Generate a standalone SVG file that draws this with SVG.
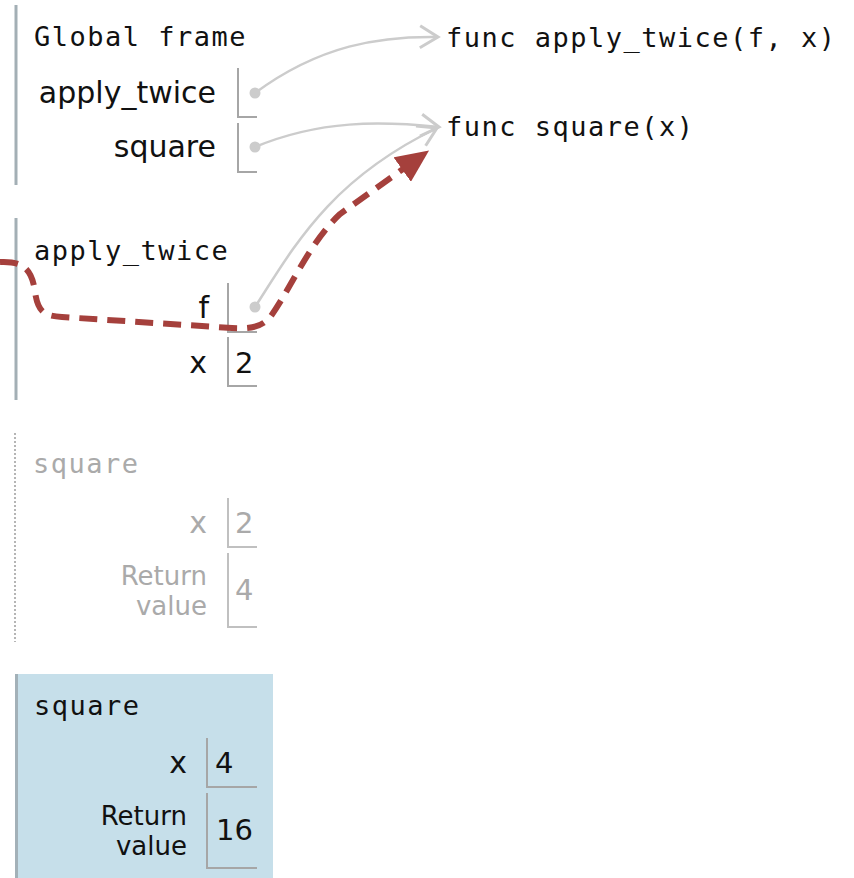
<svg xmlns="http://www.w3.org/2000/svg" width="854" height="878" viewBox="0 0 854 878">
<defs>
<style>
.title{font-family:"DejaVu Sans Mono","Liberation Mono",monospace;font-size:27px;letter-spacing:1.5px;fill:#111111}
.lbl{font-family:"DejaVu Sans","Liberation Sans",sans-serif;font-size:30px;fill:#111111;text-anchor:end}
.ret{font-family:"DejaVu Sans","Liberation Sans",sans-serif;font-size:26px;fill:#111111;text-anchor:end}
.val{font-family:"DejaVu Sans","Liberation Sans",sans-serif;font-size:29px;fill:#111111}
.faded .title,.faded .lbl,.faded .ret,.faded .val{fill:#aaaaaa}
.box{fill:none;stroke:#a6a6a6;stroke-width:2}
.faded .box{stroke:#c0c0c0}
.bar{stroke:#a3afb5;stroke-width:3}
.dot{fill:#cccccc}
.ptr{fill:none;stroke:#cccccc;stroke-width:2.5}
.red{fill:none;stroke:#a5403c;stroke-width:6;stroke-dasharray:18 10}
</style>
<marker id="chev" markerUnits="userSpaceOnUse" markerWidth="24" markerHeight="26" viewBox="0 0 24 26" refX="20" refY="13" orient="auto">
<path d="M2,2 L20,13 L2,24" fill="none" stroke="#cccccc" stroke-width="3"/>
</marker>
<marker id="redhead" markerUnits="userSpaceOnUse" markerWidth="33" markerHeight="30" viewBox="0 0 33 30" refX="1" refY="15" orient="auto">
<path d="M0,0 L33,15 L0,30 z" fill="#a5403c"/>
</marker>
</defs>

<g id="global-frame">
<line class="bar" x1="16" y1="5" x2="16" y2="185"/>
<text class="title" x="34" y="46">Global frame</text>
<text class="lbl" x="216" y="103">apply_twice</text>
<path class="box" d="M238,68 V117 H257"/>
<circle class="dot" cx="255" cy="93" r="5.5"/>
<text class="lbl" x="216" y="157">square</text>
<path class="box" d="M238,123 V172 H257"/>
<circle class="dot" cx="255" cy="147" r="5.5"/>
</g>

<g id="func-apply-twice">
<text class="title" x="446" y="47">func apply_twice(f, x)</text>
</g>
<g id="func-square">
<text class="title" x="446" y="136">func square(x)</text>
</g>

<g id="apply-twice-frame">
<line class="bar" x1="16" y1="218" x2="16" y2="400"/>
<text class="title" x="34" y="260">apply_twice</text>
<text class="lbl" x="209" y="318">f</text>
<path class="box" d="M228,283 V332 H257"/>
<circle class="dot" cx="255" cy="307" r="5.5"/>
<text class="lbl" x="207" y="373">x</text>
<path class="box" d="M228,337 V386 H257"/>
<text class="val" x="235" y="373">2</text>
</g>

<g id="square-frame-old" class="faded">
<line x1="15" y1="433" x2="15" y2="642" stroke="#b5b5b5" stroke-width="2" stroke-dasharray="2 2"/>
<text class="title" x="33" y="473">square</text>
<text class="lbl" x="207" y="533">x</text>
<path class="box" d="M228,498 V547 H257"/>
<text class="val" x="235" y="533">2</text>
<text class="ret" x="207" y="585">Return</text>
<text class="ret" x="207" y="615">value</text>
<path class="box" d="M228,553 V627 H257"/>
<text class="val" x="235" y="600">4</text>
</g>

<g id="square-frame-active">
<rect x="15" y="674" width="258" height="210" fill="#c6dfea"/>
<line x1="16.5" y1="674" x2="16.5" y2="878" stroke="#a3b1b8" stroke-width="3"/>
<text class="title" x="34" y="715">square</text>
<text class="lbl" x="187" y="773">x</text>
<path class="box" d="M207,738 V787 H257"/>
<text class="val" x="215" y="773">4</text>
<text class="ret" x="187" y="825">Return</text>
<text class="ret" x="187" y="855">value</text>
<path class="box" d="M207,793 V868 H257"/>
<text class="val" x="216" y="840">16</text>
</g>

<g id="connectors">
<path class="ptr" d="M255,93 C320,45 380,36 438,37" marker-end="url(#chev)"/>
<path class="ptr" d="M255,147 C320,120 380,121 439,127" marker-end="url(#chev)"/>
<path class="ptr" d="M255,307 C295,245 330,180 437,128" marker-end="url(#chev)"/>
<path class="red" d="M0,262 C22,261 32,268 35,292 C38,312 44,316 62,317 L232,328 C252,329 262,327 271,316 C292,286 310,242 340,214 L403,169" marker-end="url(#redhead)"/>
</g>
</svg>
